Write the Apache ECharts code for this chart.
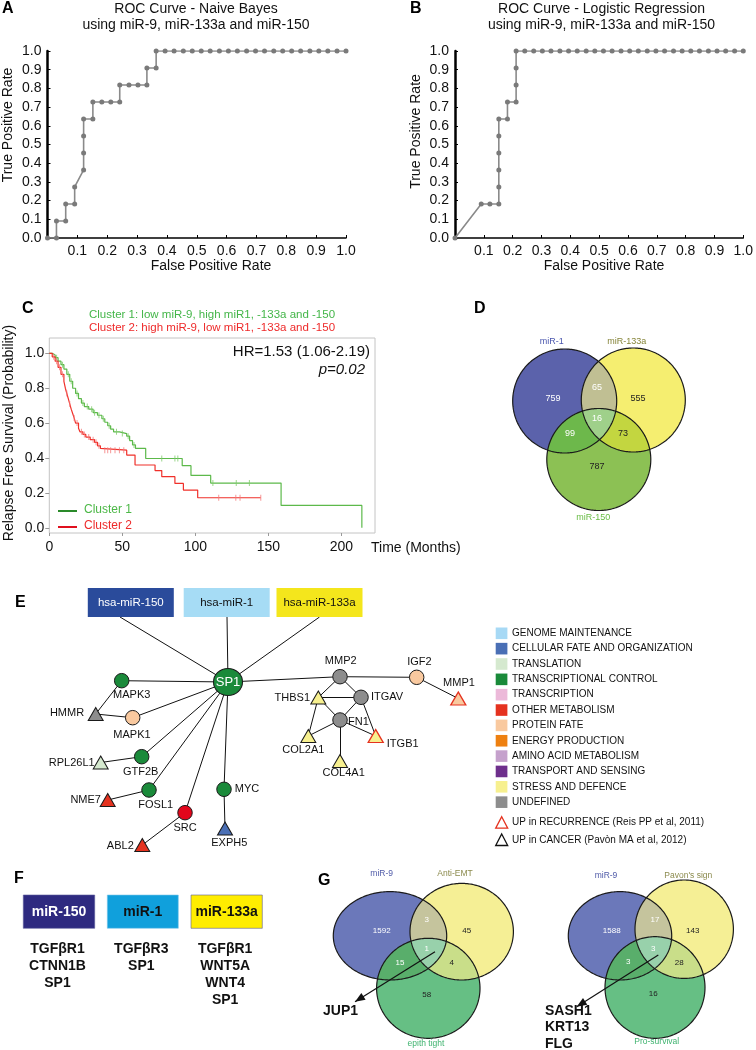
<!DOCTYPE html>
<html><head><meta charset="utf-8">
<script src="https://cdn.jsdelivr.net/npm/echarts@6/dist/echarts.min.js"></script>
<style>html,body{margin:0;padding:0;background:#fff}#c{width:756px;height:1050px}</style>
</head><body><div id="c"></div>
<script>
const FONT = '"Liberation Sans", Arial, Helvetica, sans-serif';

// ---------- Panel A: ROC Naive Bayes ----------
const rocNBfpr = [0.000,0.030,0.030,0.061,0.061,0.091,0.091,0.121,0.121,0.121,0.121,0.152,0.152,0.182,0.212,0.242,0.242,0.273,0.303,0.333,0.333,0.364,0.364,
  0.394,0.424,0.455,0.485,0.515,0.545,0.576,0.606,0.636,0.667,0.697,0.727,0.758,0.788,0.818,0.848,0.879,0.909,0.939,0.970,1.000];
const rocNBtpr = [0.000,0.000,0.091,0.091,0.182,0.182,0.273,0.364,0.455,0.545,0.636,0.636,0.727,0.727,0.727,0.727,0.818,0.818,0.818,0.818,0.909,0.909,1.000,
  1,1,1,1,1,1,1,1,1,1,1,1,1,1,1,1,1,1,1,1,1];
// ---------- Panel B: ROC Logistic Regression ----------
const rocLRfpr = [0.000,0.091,0.121,0.152,0.152,0.152,0.152,0.152,0.152,0.182,0.182,0.212,0.212,0.212,0.212,
  0.242,0.273,0.303,0.333,0.364,0.394,0.424,0.455,0.485,0.515,0.545,0.576,0.606,0.636,0.667,0.697,0.727,0.758,0.788,0.818,0.848,0.879,0.909,0.939,0.970,1.000];
const rocLRtpr = [0.000,0.182,0.182,0.182,0.273,0.364,0.455,0.545,0.636,0.636,0.727,0.727,0.818,0.909,1.000,
  1,1,1,1,1,1,1,1,1,1,1,1,1,1,1,1,1,1,1,1,1,1,1,1,1,1];
const rocTicks = ['0.0','0.1','0.2','0.3','0.4','0.5','0.6','0.7','0.8','0.9','1.0'];

// ---------- Panel C: Kaplan-Meier ----------
const kmC1time = [0,2,4,6,8,10,12,14,16,18,20,22,24,27,30,33,36,38,40,42,44,48,53,55,57,59,66,91,97,110.5,158.7,214];
const kmC1surv = [1.0,0.99,0.975,0.955,0.935,0.91,0.88,0.84,0.80,0.77,0.74,0.715,0.695,0.68,0.66,0.645,0.625,0.605,0.585,0.565,0.55,0.54,0.525,0.50,0.475,0.455,0.397,0.356,0.30,0.256,0.128,0.0];
const kmC2time = [0,2,4,6,8,10,11,12,13,14,15,16,17,18,20,21,23,25,28,31,33,35,36,53,58.7,72.4,77,86,91.8,101.6,144.8];
const kmC2surv = [1.0,0.98,0.955,0.92,0.88,0.84,0.80,0.77,0.74,0.71,0.68,0.655,0.63,0.60,0.57,0.55,0.535,0.52,0.505,0.49,0.47,0.455,0.445,0.417,0.36,0.328,0.293,0.254,0.216,0.172,0.172];
const censC1 = [5,9,13,15,19,23,26,29,31,34,37,41,46,50,54,58,77,86,88,112,128,137];
const censC2 = [3,5,7,9,12,14,17,19,22,24,27,30,32,34,38,40,42,45,48,51,116,127.7,130.6,144.8];
const kmXTicks = [0,50,100,150,200];
const kmYTicks = [0,0.2,0.4,0.6,0.8,1.0];

// ---------- Panel D / G: Venn counts (A, B, C, AB, AC, BC, ABC) ----------
const vennDNames = ['miR-1','miR-133a','miR-150'];
const vennDCounts = [759,555,787,65,99,73,16];
const vennG1Names = ['miR-9','Anti-EMT','epith tight'];
const vennG1Counts = [1592,45,58,3,15,4,1];
const vennG2Names = ['miR-9',"Pavon's sign",'Pro-survival'];
const vennG2Counts = [1588,143,16,17,3,28,3];
const vennG1Genes = ['JUP1'];
const vennG2Genes = ['SASH1','KRT13','FLG'];

// ---------- Panel E: network ----------
const eCategories = ['GENOME MAINTENANCE','CELLULAR FATE AND ORGANIZATION','TRANSLATION','TRANSCRIPTIONAL CONTROL','TRANSCRIPTION','OTHER METABOLISM','PROTEIN FATE','ENERGY PRODUCTION','AMINO ACID METABOLISM','TRANSPORT AND SENSING','STRESS AND DEFENCE','UNDEFINED'];
const eCatColors = ['#a7d9f5','#4a6fb5','#d5e9cf','#1a8a3a','#ecb9d9','#e5321f','#f9c99f','#ee8010','#c5a1cc','#6e2f8c','#f7f08f','#8d8d8d'];
const eMiRNAs = ['hsa-miR-150','hsa-miR-1','hsa-miR-133a'];
// [gene, category index, shape, mark]  mark: 'rec' = UP in recurrence
const eGenes = [
  ['SP1',3,'circle',''],['MAPK3',3,'circle',''],['HMMR',11,'triangle',''],['MAPK1',6,'circle',''],
  ['GTF2B',3,'circle',''],['RPL26L1',2,'triangle',''],['FOSL1',3,'circle',''],['NME7',5,'triangle',''],
  ['SRC',5,'circle',''],['ABL2',5,'triangle',''],['MYC',3,'circle',''],['EXPH5',1,'triangle',''],
  ['MMP2',11,'circle',''],['THBS1',10,'triangle',''],['ITGAV',11,'circle',''],['FN1',11,'circle',''],
  ['COL2A1',10,'triangle',''],['COL4A1',10,'triangle',''],['ITGB1',10,'triangle','rec'],['IGF2',6,'circle',''],['MMP1',6,'triangle','rec']
];
const eEdges = [
  ['hsa-miR-150','SP1'],['hsa-miR-1','SP1'],['hsa-miR-133a','SP1'],
  ['SP1','MAPK3'],['SP1','MAPK1'],['SP1','GTF2B'],['SP1','FOSL1'],['SP1','SRC'],['SP1','MYC'],['SP1','MMP2'],
  ['MAPK3','HMMR'],['HMMR','MAPK1'],['GTF2B','RPL26L1'],['FOSL1','NME7'],['SRC','ABL2'],['MYC','EXPH5'],
  ['MMP2','IGF2'],['IGF2','MMP1'],['MMP2','THBS1'],['MMP2','ITGAV'],['THBS1','ITGAV'],['THBS1','FN1'],['THBS1','COL2A1'],
  ['ITGAV','FN1'],['ITGAV','ITGB1'],['FN1','COL2A1'],['FN1','COL4A1'],['FN1','ITGB1']
];

// ---------- Panel F ----------
const fMiRNAs = ['miR-150','miR-1','miR-133a'];
const fTargets = [['TGF\u03b2R1','CTNN1B','SP1'],['TGF\u03b2R3','SP1'],['TGF\u03b2R1','WNT5A','WNT4','SP1']];

// ================= layout (positions / styles) =================
const eNodePos = {
  'SP1':[228,682],'MAPK3':[121.7,680.7],'HMMR':[95.7,714],'MAPK1':[132.7,717.7],'GTF2B':[141.7,756.7],
  'RPL26L1':[100.7,762.5],'FOSL1':[149,790],'NME7':[107.7,800],'SRC':[185,812.7],'ABL2':[142.3,845],
  'MYC':[224,789.3],'EXPH5':[225,828.5],'MMP2':[340,676.7],'THBS1':[318.3,697.5],'ITGAV':[361,697.3],
  'FN1':[340,720],'COL2A1':[308.3,736],'COL4A1':[340,761],'ITGB1':[375.7,736],'IGF2':[416.7,677.3],'MMP1':[458.3,698.5]
};
const eLabelOff = {
  'SP1':[0,0],'MAPK3':[10,14.5],'HMMR':[-28.7,-1],'MAPK1':[-0.7,17.3],'GTF2B':[-1,15],'RPL26L1':[-29,0.5],
  'FOSL1':[6.7,15],'NME7':[-22,0],'SRC':[0,15.3],'ABL2':[-22,0.5],'MYC':[23,0],'EXPH5':[4.3,14.8],
  'MMP2':[0.7,-15.7],'THBS1':[-26,0],'ITGAV':[26,0],'FN1':[18.5,1.7],'COL2A1':[-5,14],'COL4A1':[3.7,12.3],
  'ITGB1':[27,8],'IGF2':[2.7,-15.7],'MMP1':[0.7,-15.5]
};
const eBoxPos = [[130.8,602.5],[226.7,602.5],[319.5,602.5]];
const eBoxColor = ['#2a4b9b','#a6dcf5','#f4e61c'];
const eBoxText = ['#fff','#111','#111'];
const eAnchor = [[120,617],[227,617],[319.5,617]];

function T(x, y, text, o) {
  o = o || {};
  const el = {type:'text', x:x, y:y, silent:true, z:10,
    style:{text:text, fill:o.fill||'#111', fontSize:o.size||11, fontFamily:FONT,
      fontWeight:o.weight||'normal', fontStyle:o.style||'normal',
      textAlign:o.align||'center', textVerticalAlign:o.va||'middle'}};
  if (o.rot) el.rotation = o.rot;
  return el;
}

const graphic = [];
// panel letters
[['A',2,9],['B',410,9],['C',22,309],['D',474,309],['E',15,603],['F',14,879],['G',318,881]].forEach(l=>{
  graphic.push(T(l[1], l[2], l[0], {size:16, weight:'bold', align:'left', fill:'#000'}));
});
// A/B titles and axis names
graphic.push(T(196,9.5,'ROC Curve - Naive Bayes',{size:14}));
graphic.push(T(196,25.5,'using miR-9, miR-133a and miR-150',{size:14}));
graphic.push(T(601.5,9.5,'ROC Curve - Logistic Regression',{size:14}));
graphic.push(T(601.5,25.5,'using miR-9, miR-133a and miR-150',{size:14}));
graphic.push(T(211,266,'False Positive Rate',{size:14}));
graphic.push(T(604,266,'False Positive Rate',{size:14}));
graphic.push(T(8,125,'True Positive Rate',{size:14, rot:Math.PI/2}));
graphic.push(T(416,131.5,'True Positive Rate',{size:14, rot:Math.PI/2}));
// C texts
graphic.push(T(212,315,'Cluster 1: low miR-9, high miR1, -133a and -150',{size:11.5, fill:'#44b649'}));
graphic.push(T(212,328,'Cluster 2: high miR-9, low miR1, -133a and -150',{size:11.5, fill:'#ee2a2a'}));
graphic.push(T(370,352,'HR=1.53 (1.06-2.19)',{size:15, align:'right'}));
graphic.push(T(365,370,'p=0.02',{size:15, align:'right', style:'italic'}));
graphic.push(T(9,433,'Relapse Free Survival (Probability)',{size:14, rot:Math.PI/2}));
graphic.push(T(371,548,'Time (Months)',{size:14, align:'left'}));
graphic.push({type:'line', silent:true, shape:{x1:58,y1:511,x2:77,y2:511}, style:{stroke:'#2a8a2a', lineWidth:2}});
graphic.push({type:'line', silent:true, shape:{x1:58,y1:527,x2:77,y2:527}, style:{stroke:'#e0101e', lineWidth:2}});
graphic.push(T(84,509.5,'Cluster 1',{size:12, align:'left', fill:'#4cb847'}));
graphic.push(T(84,525.5,'Cluster 2',{size:12, align:'left', fill:'#ee2a2a'}));

// ---- Venn helpers ----
function ell(cx,cy,rx,ry){return {cx:cx,cy:cy,rx:rx,ry:ry};}
function ePts(e,n){const a=[];for(let k=0;k<n;k++){const t=2*Math.PI*k/n;a.push([e.cx+e.rx*Math.cos(t),e.cy+e.ry*Math.sin(t)]);}return a;}
function inside(e,p){const dx=(p[0]-e.cx)/e.rx,dy=(p[1]-e.cy)/e.ry;return dx*dx+dy*dy<=1.0008;}
function inter(list){
  const P=[];
  list.forEach((e,i)=>{ePts(e,900).forEach(p=>{if(list.every((f,j)=>j===i||inside(f,p)))P.push(p);});});
  let cx=0,cy=0;P.forEach(p=>{cx+=p[0];cy+=p[1];});cx/=P.length;cy/=P.length;
  P.sort((a,b)=>Math.atan2(a[1]-cy,a[0]-cx)-Math.atan2(b[1]-cy,b[0]-cx));
  return P;
}
function venn(sets, fills, names, nameColors, namePos, counts, countPos, countColors, fs, ls){
  sets.forEach((e,i)=>graphic.push({type:'polygon',silent:true,shape:{points:ePts(e,240)},style:{fill:fills[i]}}));
  [[0,1,3],[0,2,4],[1,2,5]].forEach(q=>graphic.push({type:'polygon',silent:true,shape:{points:inter([sets[q[0]],sets[q[1]]])},style:{fill:fills[q[2]]}}));
  graphic.push({type:'polygon',silent:true,shape:{points:inter(sets)},style:{fill:fills[6]}});
  sets.forEach(e=>graphic.push({type:'polygon',silent:true,shape:{points:ePts(e,240)},style:{fill:'none',stroke:'#1a1a1a',lineWidth:1.2}}));
  names.forEach((n,i)=>graphic.push(T(namePos[i][0],namePos[i][1],n,{size:ls,fill:nameColors[i]})));
  counts.forEach((c,i)=>graphic.push(T(countPos[i][0],countPos[i][1],String(c),{size:fs,fill:countColors[i]})));
}
const cntCol = ['#fff','#222','#222','#fff','#fff','#222','#fff'];
venn([ell(564.7,401,52,52),ell(633.3,400,52,52),ell(598.8,459.5,52,51)],
  ['#5b62ab','#f5ee70','#8cc154','#c0bf93','#6db84b','#c3d640','#9fd08a'],
  vennDNames,['#4a56ae','#86853a','#69bd45'],[[551.7,341.7],[626.7,341.7],[593.3,518]],
  vennDCounts,[[553,399],[638,399],[597,467],[597,388],[570,434],[623,434],[597,419]],cntCol,9,9);
venn([ell(390,935.8,56.7,44.2),ell(461.7,931.7,51.7,48.3),ell(428.3,988.3,51.7,50)],
  ['#6b78ba','#f5ef95','#66bf84','#c5c49d','#59ae6b','#c9de89','#98d1ab'],
  vennG1Names,['#4f5aa8','#8c8b4e','#3fb36f'],[[381.7,874],[455,874],[426,1043.3]],
  vennG1Counts,[[381.7,930.7],[466.7,930.7],[426.7,995],[426.7,919.3],[400,962.3],[451.7,962.3],[426.7,948.3]],cntCol,8,8.5);
venn([ell(620,935.8,51.7,44.2),ell(684.2,929.2,49.2,49.2),ell(655,987.5,50,50.8)],
  ['#6b78ba','#f5ef95','#66bf84','#c5c49d','#59ae6b','#c9de89','#98d1ab'],
  vennG2Names,['#4f5aa8','#8c8b4e','#3fb36f'],[[606,876],[688.3,876],[656.7,1041.7]],
  vennG2Counts,[[611.7,931],[692.7,931],[653.3,993.3],[655,920],[628.3,961.7],[679.3,962.3],[653.3,949]],cntCol,8,8.5);
function arrow(x1,y1,x2,y2){
  graphic.push({type:'line',silent:true,z:11,shape:{x1:x1,y1:y1,x2:x2,y2:y2},style:{stroke:'#111',lineWidth:1.2}});
  const dx=x2-x1,dy=y2-y1,L=Math.hypot(dx,dy),ux=dx/L,uy=dy/L,bx=x2-ux*10,by=y2-uy*10;
  graphic.push({type:'polygon',silent:true,z:11,shape:{points:[[x2,y2],[bx-uy*4,by+ux*4],[bx+uy*4,by-ux*4]]},style:{fill:'#111'}});
}
arrow(435,951.7,355,1001.7);
arrow(658.3,955,576.7,1006.7);
vennG1Genes.forEach((g,i)=>graphic.push(T(323,1011.3+i*16.5,g,{size:14,weight:'bold',align:'left'})));
vennG2Genes.forEach((g,i)=>graphic.push(T(545,1011+i*16.5,g,{size:14,weight:'bold',align:'left'})));

// ---- E legend ----
eCategories.forEach((c,i)=>{
  const y=633.3+i*15.35;
  graphic.push({type:'rect',silent:true,shape:{x:495.7,y:y-5.8,width:11.7,height:11.6},style:{fill:eCatColors[i]}});
  graphic.push(T(512,y,c,{size:10,align:'left'}));
});
[['#e5321f','UP in RECURRENCE (Reis PP et al, 2011)',822.7],['#111','UP in CANCER (Pav\u00f2n MA et al, 2012)',840]].forEach(r=>{
  const x=501.7,y=r[2];
  graphic.push({type:'polygon',silent:true,shape:{points:[[x,y-6],[x+6,y+5.5],[x-6,y+5.5]]},style:{fill:'#fff',stroke:r[0],lineWidth:1.3}});
  graphic.push(T(512,y,r[1],{size:10,align:'left'}));
});

// ---- F ----
const fBoxX = [[23.3,94.7],[107.3,178.3],[191,262.3]];
const fBoxFill = ['#2e2a80','#10a0dc','#ffed00'];
const fBoxTxt = ['#fff','#111','#111'];
fMiRNAs.forEach((m,i)=>{
  const b=fBoxX[i];
  graphic.push({type:'rect',silent:true,shape:{x:b[0],y:895,width:b[1]-b[0],height:33.3},style:{fill:fBoxFill[i],stroke:i===1?'#7cc6ea':'#5a5a9a',lineWidth:0.6}});
  graphic.push(T((b[0]+b[1])/2,911.7,m,{size:14,weight:'bold',fill:fBoxTxt[i]}));
  fTargets[i].forEach((g,j)=>graphic.push(T((b[0]+b[1])/2-1.5,949.5+j*16.9,g,{size:14,weight:'bold'})));
});

// ---- network data ----
const gNodes = [];
eMiRNAs.forEach((m,i)=>{
  gNodes.push({name:m, value:eBoxPos[i], symbol:'rect', symbolSize:[86,29], z:3,
    itemStyle:{color:eBoxColor[i], borderWidth:0},
    label:{show:true, position:'inside', color:eBoxText[i], fontSize:11.5, fontFamily:FONT}});
  gNodes.push({name:m+'_a', value:eAnchor[i], symbolSize:1, itemStyle:{opacity:0}, label:{show:false}});
});
eGenes.forEach(g=>{
  const big = g[0]==='SP1';
  const tri = g[2]==='triangle';
  gNodes.push({name:g[0], value:eNodePos[g[0]], symbol:g[2],
    symbolSize: big?[29,27]:(tri?[15,13]:[14.5,14.5]),
    itemStyle:{color:g[0]==='SRC'?'#e3061b':eCatColors[g[1]], borderColor:g[3]==='rec'?'#e5321f':'#1a1a1a', borderWidth:g[3]==='rec'?1.3:1},
    label:{show:true, position:'inside', offset:eLabelOff[g[0]], color:big?'#fff':'#111', fontSize:big?13:11, fontFamily:FONT}});
});
const gLinks = eEdges.map(e=>({source: eMiRNAs.indexOf(e[0])>=0 ? e[0]+'_a' : e[0], target:e[1]}));

function lookup(times, surv, t){let v=surv[0];for(let i=0;i<times.length;i++){if(times[i]<=t)v=surv[i];}return v;}

const rocAxisX = (gi)=>({gridIndex:gi, type:'value', min:0, max:1, interval:0.1,
  axisLine:{show:true, onZero:false, lineStyle:{color:'#000', width:1.5}},
  axisTick:{show:true, inside:true, length:3, lineStyle:{color:'#000'}},
  axisLabel:{fontSize:14, color:'#111', fontFamily:FONT, margin:6, formatter:v=> v<0.05?'':rocTicks[Math.round(v*10)]},
  splitLine:{show:false}});
const rocAxisY = (gi)=>({gridIndex:gi, type:'value', min:0, max:1, interval:0.1,
  axisLine:{show:true, onZero:false, lineStyle:{color:'#000', width:2.5}},
  axisTick:{show:true, inside:true, length:3, lineStyle:{color:'#000'}},
  axisLabel:{fontSize:14, color:'#111', fontFamily:FONT, margin:6, formatter:v=> rocTicks[Math.round(v*10)]},
  splitLine:{show:false}});
const rocSeries = (gi, xs, ys)=>({type:'line', xAxisIndex:gi, yAxisIndex:gi, data:xs.map((x,i)=>[x,ys[i]]),
  symbol:'circle', symbolSize:5, showSymbol:true, lineStyle:{color:'#8a8a8a', width:1.6}, itemStyle:{color:'#7a7a7a'}, z:3});

const option = {
  animation:false,
  textStyle:{fontFamily:FONT},
  grid:[
    {left:47.5, top:51, width:298.5, height:187},
    {left:455, top:51, width:292, height:187},
    {left:49.3, top:338, width:325.7, height:195, show:true, borderColor:'#c4c4c4', borderWidth:1},
    {left:0, top:0, width:756, height:1050, show:false}
  ],
  xAxis:[rocAxisX(0), rocAxisX(1),
    {gridIndex:2, type:'value', min:0, max:223, axisLine:{show:false, onZero:false},
      axisTick:{show:true, length:3, customValues:kmXTicks, lineStyle:{color:'#999'}},
      axisLabel:{fontSize:14, color:'#111', fontFamily:FONT, margin:7, customValues:kmXTicks}, splitLine:{show:false}},
    {gridIndex:3, type:'value', min:0, max:756, show:false}],
  yAxis:[rocAxisY(0), rocAxisY(1),
    {gridIndex:2, type:'value', min:-0.03, max:1.088, axisLine:{show:false, onZero:false},
      axisTick:{show:true, length:4, customValues:kmYTicks, lineStyle:{color:'#999'}},
      axisLabel:{fontSize:14, color:'#111', fontFamily:FONT, margin:5, customValues:kmYTicks, formatter:v=>v.toFixed(1)}, splitLine:{show:false}},
    {gridIndex:3, type:'value', min:0, max:1050, inverse:true, show:false}],
  series:[
    rocSeries(0, rocNBfpr, rocNBtpr),
    rocSeries(1, rocLRfpr, rocLRtpr),
    {type:'line', xAxisIndex:2, yAxisIndex:2, step:'end', showSymbol:false, data:kmC1time.map((t,i)=>[t,kmC1surv[i]]), lineStyle:{color:'#5cb94a', width:1.2}, z:3},
    {type:'line', xAxisIndex:2, yAxisIndex:2, step:'end', showSymbol:false, data:kmC2time.map((t,i)=>[t,kmC2surv[i]]), lineStyle:{color:'#f0302a', width:1.2}, z:4},
    {type:'scatter', xAxisIndex:2, yAxisIndex:2, symbol:'rect', symbolSize:[1,6], data:censC1.map(t=>[t,lookup(kmC1time,kmC1surv,t)]), itemStyle:{color:'#7fcc6c'}, z:5},
    {type:'scatter', xAxisIndex:2, yAxisIndex:2, symbol:'rect', symbolSize:[1,6], data:censC2.map(t=>[t,lookup(kmC2time,kmC2surv,t)]), itemStyle:{color:'#f47c7c'}, z:5},
    {type:'graph', coordinateSystem:'cartesian2d', xAxisIndex:3, yAxisIndex:3, layout:'none', roam:false, z:6,
      data:gNodes, links:gLinks, lineStyle:{color:'#111', width:1, opacity:1, curveness:0},
      emphasis:{disabled:true}, silent:true}
  ],
  graphic:graphic
};
const chart = echarts.init(document.getElementById('c'), null, {renderer:'canvas'});
chart.setOption(option);
</script>
</body></html>
